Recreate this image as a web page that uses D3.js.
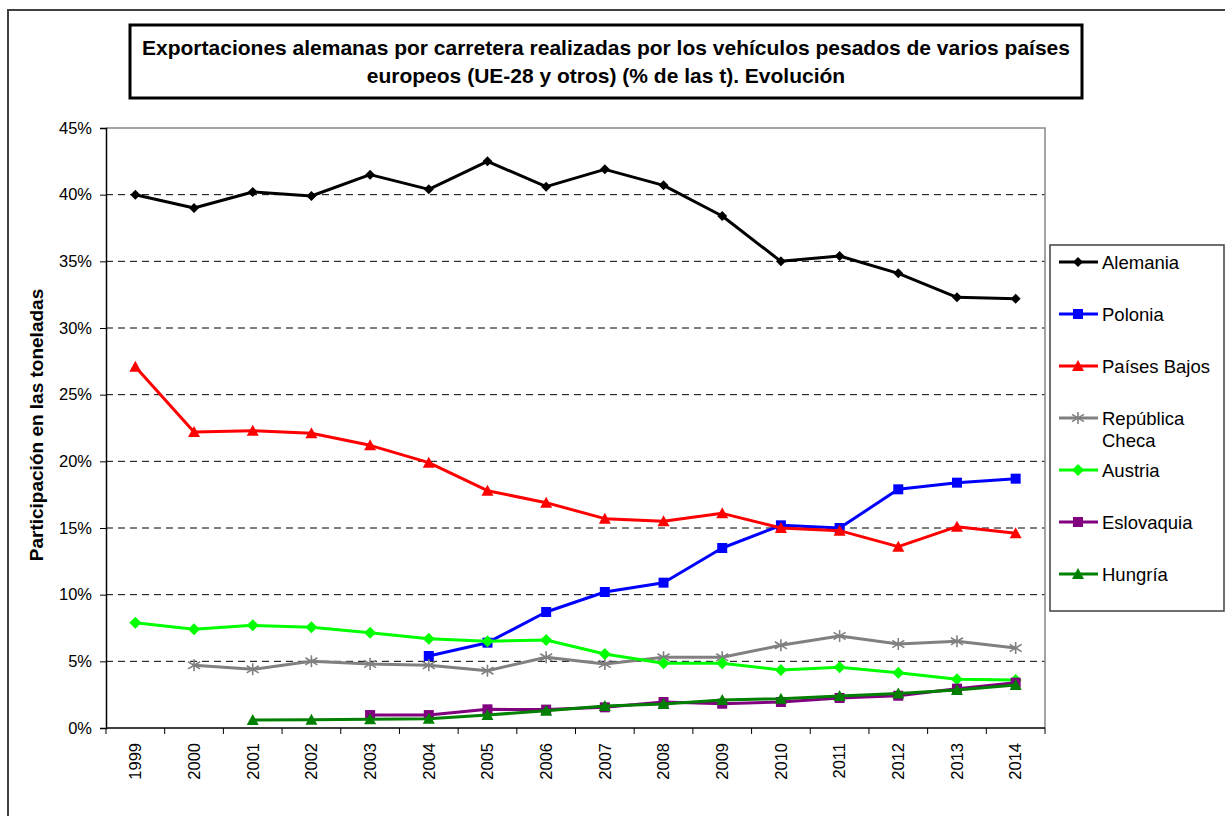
<!DOCTYPE html>
<html>
<head>
<meta charset="utf-8">
<script src="https://cdn.jsdelivr.net/npm/d3@7/dist/d3.min.js"></script>
<style>
  body { margin: 0; background: #fff; }
  svg { display: block; font-family: "Liberation Sans", Arial, sans-serif; }
</style>
</head>
<body>
<svg id="chart" width="1225" height="816"></svg>
<script>
'use strict';

// Data (share of tonnes, %)
var years = ['1999', '2000', '2001', '2002', '2003', '2004', '2005', '2006',
  '2007', '2008', '2009', '2010', '2011', '2012', '2013', '2014'];
var alemania = [40.0, 39.0, 40.2, 39.9, 41.5, 40.4, 42.5, 40.6, 41.9, 40.7, 38.4, 35.0, 35.4, 34.1, 32.3, 32.2];
var polonia = [null, null, null, null, null, 5.4, 6.4, 8.7, 10.2, 10.9, 13.5, 15.2, 15.0, 17.9, 18.4, 18.7];
var paisesBajos = [27.1, 22.2, 22.3, 22.1, 21.2, 19.9, 17.8, 16.9, 15.7, 15.5, 16.1, 15.0, 14.8, 13.6, 15.1, 14.6];
var republicaCheca = [null, 4.7, 4.4, 5.0, 4.8, 4.7, 4.3, 5.3, 4.8, 5.3, 5.3, 6.2, 6.9, 6.3, 6.5, 6.0];
var austria = [7.9, 7.4, 7.7, 7.55, 7.15, 6.7, 6.5, 6.6, 5.55, 4.85, 4.85, 4.35, 4.55, 4.15, 3.65, 3.6];
var eslovaquia = [null, null, null, null, 0.97, 0.97, 1.4, 1.38, 1.55, 1.95, 1.82, 1.95, 2.25, 2.42, 2.95, 3.4];
var hungria = [null, null, 0.6, 0.62, 0.65, 0.7, 0.97, 1.3, 1.65, 1.8, 2.1, 2.2, 2.4, 2.58, 2.85, 3.22];

var seriesNames = ['Alemania', 'Polonia', 'Países Bajos', 'República Checa', 'Austria', 'Eslovaquia', 'Hungría'];
var seriesValues = [alemania, polonia, paisesBajos, republicaCheca, austria, eslovaquia, hungria];
var seriesColors = ['#000000', '#0000ff', '#ff0000', '#808080', '#00ff00', '#800080', '#008000'];
var seriesMarkers = ['diamondSmall', 'square', 'triangle', 'asterisk', 'diamond', 'square', 'triangle'];
var yTicks = [0, 0.05, 0.10, 0.15, 0.20, 0.25, 0.30, 0.35, 0.40, 0.45];

var titleLines = [
  'Exportaciones alemanas por carretera realizadas por los vehículos pesados de varios países',
  'europeos (UE-28 y otros) (% de las t). Evolución'
];

var svg = d3.select('#chart');

// Outer chart frame
svg.append('rect')
  .attr('x', 8).attr('y', 10)
  .attr('width', 1240).attr('height', 830)
  .attr('fill', 'none')
  .attr('stroke', '#404040')
  .attr('stroke-width', 2);

// Title box
svg.append('rect')
  .attr('x', 130).attr('y', 25)
  .attr('width', 952).attr('height', 73)
  .attr('fill', '#fff')
  .attr('stroke', '#000')
  .attr('stroke-width', 3);

svg.selectAll('text.title')
  .data(titleLines)
  .enter()
  .append('text')
  .attr('class', 'title')
  .attr('x', 606)
  .attr('y', function(d, i) { return 55 + i * 28; })
  .attr('text-anchor', 'middle')
  .style('font-size', '21px')
  .style('font-weight', 'bold')
  .text(function(d) { return d; });

// Scales
var plot = { left: 106, right: 1045, top: 128, bottom: 728 };
var x = d3.scaleBand().domain(years).range([plot.left, plot.right]);
var y = d3.scaleLinear().domain([0, 0.45]).range([plot.bottom, plot.top]);

// Grid lines (dashed)
svg.append('g')
  .selectAll('line')
  .data(yTicks.filter(function(t) { return t > 0 && t < 0.45; }))
  .enter()
  .append('line')
  .attr('x1', plot.left).attr('x2', plot.right)
  .attr('y1', function(d) { return y(d); })
  .attr('y2', function(d) { return y(d); })
  .attr('stroke', '#000')
  .attr('stroke-width', 1)
  .attr('stroke-dasharray', '7,5');

// Plot area border on top and right (grey)
svg.append('path')
  .attr('d', 'M' + plot.left + ',' + plot.top + 'H' + plot.right + 'V' + plot.bottom)
  .attr('fill', 'none')
  .attr('stroke', '#888')
  .attr('stroke-width', 1.5);

// Y axis
var yAxis = svg.append('g')
  .attr('transform', 'translate(' + plot.left + ',0)')
  .call(d3.axisLeft(y).tickValues(yTicks).tickFormat(d3.format('.0%')).tickSize(6).tickPadding(8));
yAxis.select('.domain').attr('stroke', '#000').attr('stroke-width', 1.5);
yAxis.selectAll('.tick line').attr('stroke', '#000');
yAxis.selectAll('.tick text')
  .attr('fill', '#000')
  .style('font-size', '16.5px')
  .style('font-family', '"Liberation Sans", Arial, sans-serif');

// X axis: labels at category centres, ticks at category boundaries
var xAxis = svg.append('g')
  .attr('transform', 'translate(0,' + plot.bottom + ')')
  .call(d3.axisBottom(x).tickSize(0).tickPadding(0));
xAxis.select('.domain').remove();
xAxis.selectAll('.tick text')
  .attr('fill', '#000')
  .attr('transform', 'rotate(-90)')
  .attr('x', -15)
  .attr('y', 0)
  .attr('dy', '0.35em')
  .attr('text-anchor', 'end')
  .style('font-size', '16.5px')
  .style('font-family', '"Liberation Sans", Arial, sans-serif');

var boundaries = years.map(function(d) { return x(d); }).concat([plot.right]);
svg.append('g')
  .selectAll('line')
  .data(boundaries)
  .enter()
  .append('line')
  .attr('x1', function(d) { return d; })
  .attr('x2', function(d) { return d; })
  .attr('y1', plot.bottom)
  .attr('y2', plot.bottom + 6)
  .attr('stroke', '#000');
svg.append('line')
  .attr('x1', plot.left).attr('x2', plot.right)
  .attr('y1', plot.bottom).attr('y2', plot.bottom)
  .attr('stroke', '#000')
  .attr('stroke-width', 1.5);

// Y axis title
svg.append('text')
  .attr('transform', 'translate(43,425) rotate(-90)')
  .attr('text-anchor', 'middle')
  .style('font-size', '19px')
  .style('font-weight', 'bold')
  .text('Participación en las toneladas');

// Marker drawing
function drawMarker(g, type, color, cx, cy) {
  if (type === 'diamondSmall' || type === 'diamond') {
    var r = type === 'diamond' ? 6 : 5;
    g.append('path')
      .attr('d', 'M' + cx + ',' + (cy - r) + 'L' + (cx + r) + ',' + cy + 'L' + cx + ',' + (cy + r) + 'L' + (cx - r) + ',' + cy + 'Z')
      .attr('fill', color);
  } else if (type === 'square') {
    g.append('rect')
      .attr('x', cx - 5).attr('y', cy - 5)
      .attr('width', 10).attr('height', 10)
      .attr('fill', color);
  } else if (type === 'triangle') {
    g.append('path')
      .attr('d', 'M' + cx + ',' + (cy - 6) + 'L' + (cx + 6) + ',' + (cy + 5) + 'L' + (cx - 6) + ',' + (cy + 5) + 'Z')
      .attr('fill', color);
  } else if (type === 'asterisk') {
    var a = 6;
    g.append('path')
      .attr('d', 'M' + cx + ',' + (cy - a) + 'V' + (cy + a) +
        'M' + (cx - a) + ',' + (cy - a * 0.6) + 'L' + (cx + a) + ',' + (cy + a * 0.6) +
        'M' + (cx - a) + ',' + (cy + a * 0.6) + 'L' + (cx + a) + ',' + (cy - a * 0.6))
      .attr('stroke', color)
      .attr('stroke-width', 1.6)
      .attr('fill', 'none');
  }
}

var line = d3.line()
  .defined(function(d) { return d.v !== null; })
  .x(function(d) { return x(d.year) + x.bandwidth() / 2; })
  .y(function(d) { return y(d.v / 100); });

seriesValues.forEach(function(values, si) {
  var pts = years.map(function(yr, i) { return { year: yr, v: values[i] }; });
  var g = svg.append('g');
  g.append('path')
    .datum(pts)
    .attr('d', line)
    .attr('fill', 'none')
    .attr('stroke', seriesColors[si])
    .attr('stroke-width', 3)
    .attr('stroke-linejoin', 'round');
  pts.filter(function(p) { return p.v !== null; }).forEach(function(p) {
    drawMarker(g, seriesMarkers[si], seriesColors[si],
      x(p.year) + x.bandwidth() / 2, y(p.v / 100));
  });
});

// Legend
var legend = svg.append('g');
legend.append('rect')
  .attr('x', 1050).attr('y', 245)
  .attr('width', 174).attr('height', 366)
  .attr('fill', '#fff')
  .attr('stroke', '#404040')
  .attr('stroke-width', 1.5);

var legendY = [262, 314, 366, 418, 470, 522, 574];
seriesNames.forEach(function(name, i) {
  var g = legend.append('g');
  var ly = legendY[i];
  g.append('line')
    .attr('x1', 1059).attr('x2', 1098)
    .attr('y1', ly).attr('y2', ly)
    .attr('stroke', seriesColors[i])
    .attr('stroke-width', 3);
  drawMarker(g, seriesMarkers[i], seriesColors[i], 1078, ly);
  var t = g.append('text')
    .attr('x', 1102)
    .attr('y', ly + 6.5)
    .style('font-size', '18.5px');
  if (name === 'República Checa') {
    t.append('tspan').attr('x', 1102).text('República');
    t.append('tspan').attr('x', 1102).attr('dy', 22).text('Checa');
  } else {
    t.text(name);
  }
});
</script>
</body>
</html>
